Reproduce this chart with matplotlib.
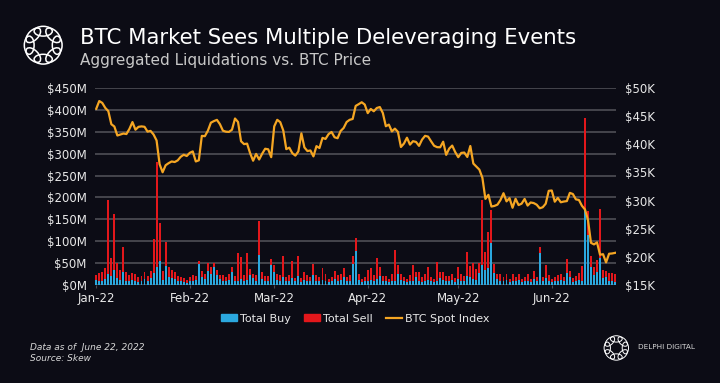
import numpy as np
import matplotlib.pyplot as plt
from matplotlib.patches import Ellipse, Patch
from matplotlib.lines import Line2D

# daily data, Jan 1 2022 -> Jun 22 2022
months = ["Jan-22", "Feb-22", "Mar-22", "Apr-22", "May-22", "Jun-22"]
month_start = [0, 31, 59, 90, 120, 151]

# BTC spot index (K USD), daily
btc = [46.31,
       47.69, 47.35, 46.46, 45.90, 43.57, 43.16, 41.56, 41.73, 41.91, 41.82, 42.74, 43.95, 42.59, 43.10, 43.18,
       43.11, 42.25, 42.38, 41.74, 40.68, 36.46, 35.03, 36.28, 36.65, 36.95, 36.85, 37.14, 37.78, 38.14, 37.92, 38.48,
       38.74, 36.95, 37.15, 41.50, 41.44, 42.41, 43.84, 44.12, 44.34, 43.57, 42.41, 42.24, 42.20, 42.59, 44.58,
       43.96, 40.54, 40.03, 40.12, 38.43, 37.08, 38.29, 37.30, 38.33, 39.21, 39.11, 37.71, 43.19,
       44.35, 43.93, 42.45, 39.14, 39.40, 38.42, 37.99, 38.73, 41.94, 39.44, 38.80, 38.90, 37.85, 39.67, 39.34,
       41.14, 40.95, 41.80, 42.19, 41.25, 41.08, 42.36, 42.89, 43.96, 44.35, 44.50, 46.82, 47.13, 47.47, 47.06, 45.54,
       46.28, 45.87, 46.45, 46.62, 45.56, 43.21, 43.50, 42.29, 42.78, 42.21, 39.52, 40.13, 41.17, 39.94, 40.55,
       40.42, 39.72, 40.83, 41.50, 41.37, 40.53, 39.74, 39.49, 39.47, 40.46, 38.12, 39.24, 39.77, 38.61, 37.71,
       38.47, 38.53, 37.75, 39.70, 36.58, 36.04, 35.50, 34.06, 30.30, 31.02, 28.94, 29.05, 29.28, 30.10, 31.31,
       29.86, 30.43, 28.72, 30.32, 29.20, 29.45, 30.29, 29.11, 29.66, 29.56, 29.27, 28.63, 28.81, 29.45, 31.73, 31.79,
       29.80, 30.47, 29.70, 29.83, 29.91, 31.37, 31.16, 30.21, 30.11, 29.08, 28.42, 26.58, 22.49, 22.21, 22.57,
       20.38, 20.47, 19.02, 20.55, 20.60, 20.71]

# total buy liquidations ($M), daily
buy = [12, 10, 8, 14, 25, 20, 35, 16, 12, 30, 10, 8, 12, 10, 6, 8, 14, 10, 15, 28, 40, 55, 12, 43, 18, 16, 14, 9, 8, 6, 5,
       8, 10, 12, 48, 18, 14, 32, 24, 40, 22, 14, 10, 8, 12, 30, 10, 10, 14, 8, 12, 22, 16, 10, 68, 14, 8, 10, 45,
       30, 12, 10, 18, 8, 10, 16, 8, 20, 6, 12, 10, 8, 22, 10, 8, 12, 10, 6, 8, 14, 10, 12, 18, 8, 10, 47, 77, 12, 6, 8,
       10, 12, 8, 14, 20, 10, 8, 6, 10, 8, 25, 12, 8, 6, 10, 8, 18, 8, 6, 10, 12, 8, 6, 10, 16, 12, 10, 8, 12, 6,
       14, 10, 8, 20, 18, 14, 12, 28, 46, 34, 38, 97, 27, 14, 10, 8, 12, 6, 10, 8, 12, 6, 8, 10, 6, 14, 8, 74, 8, 15, 10,
       6, 8, 10, 12, 8, 27, 18, 6, 8, 12, 8, 171, 114, 42, 22, 30, 61, 16, 18, 10, 8, 7]

# total sell liquidations ($M), daily
sell = [10, 18, 22, 24, 170, 42, 128, 34, 23, 56, 20, 14, 16, 15, 12, 12, 16, 10, 18, 78, 241, 87, 20, 55, 22, 19, 16, 11, 10, 9, 7,
        10, 12, 8, 7, 14, 10, 18, 16, 10, 12, 8, 12, 10, 14, 12, 10, 64, 51, 14, 60, 14, 10, 12, 79, 16, 12, 10, 15,
        15, 13, 12, 48, 10, 12, 39, 8, 47, 10, 18, 12, 10, 25, 12, 10, 26, 14, 8, 10, 18, 12, 14, 20, 10, 12, 20, 31, 14, 8, 10,
        24, 26, 14, 47, 20, 10, 12, 8, 14, 73, 21, 14, 10, 8, 12, 38, 12, 22, 12, 14, 30, 10, 8, 42, 14, 18, 10, 12, 14, 10,
        26, 14, 12, 55, 25, 36, 24, 22, 148, 42, 84, 74, 21, 12, 14, 10, 12, 8, 14, 10, 12, 8, 10, 14, 8, 18, 10, 12, 10, 31, 12,
        8, 10, 12, 14, 10, 32, 14, 10, 12, 16, 35, 211, 54, 25, 18, 27, 112, 18, 15, 18, 20, 18]

days = np.arange(len(btc))

bg = "#0c0c15"
grid_c = "#4a4a50"
txt = "#e8e8e8"
blue = "#2ba8de"
red = "#e3171b"
orange = "#f5a623"

fig = plt.figure(figsize=(7.2, 3.83), dpi=100, facecolor=bg)
ax = fig.add_axes([0.132, 0.2559, 0.724, 0.5143])
ax.set_facecolor(bg)

ax.bar(days, buy, width=0.65, color=blue, zorder=3)
ax.bar(days, sell, width=0.65, bottom=buy, color=red, zorder=3)
ax.set_ylim(0, 450)
ax.set_xlim(-0.4, len(btc) - 0.6)
ax.set_yticks(np.arange(0, 451, 50))
ax.set_yticklabels([f"${v}M" for v in range(0, 451, 50)])
ax.grid(axis="y", color=grid_c, linewidth=1.3, zorder=0)
ax.set_xticks(month_start)
ax.set_xticklabels(months)
for s in ax.spines.values():
    s.set_visible(False)
ax.tick_params(axis="y", length=0, colors=txt, labelsize=8.5, pad=6)
ax.tick_params(axis="x", length=2, color=grid_c, colors=txt, labelsize=8.5, pad=3)

ax2 = ax.twinx()
ax2.plot(days, btc, color=orange, linewidth=1.6, zorder=4)
ax2.set_ylim(15, 50)
ax2.set_yticks(np.arange(15, 51, 5))
ax2.set_yticklabels([f"${v}K" for v in range(15, 51, 5)])
for s in ax2.spines.values():
    s.set_visible(False)
ax2.tick_params(axis="y", length=0, colors=txt, labelsize=8.5, pad=6)

handles = [Patch(color=blue), Patch(color=red), Line2D([0], [0], color=orange, lw=1.6)]
fig.legend(handles, ["Total Buy", "Total Sell", "BTC Spot Index"], loc="center",
           bbox_to_anchor=(0.493, 0.168), ncol=3, frameon=False, fontsize=8,
           labelcolor=txt, handlelength=1.5, handleheight=0.6, handletextpad=0.2, columnspacing=1.2)

fig.text(0.111, 0.9, "BTC Market Sees Multiple Deleveraging Events", color="white",
         fontsize=15.3, va="center", ha="left")
fig.text(0.111, 0.843, "Aggregated Liquidations vs. BTC Price", color="#c8c8c8",
         fontsize=11, va="center", ha="left")
fig.text(0.042, 0.078, "Data as of  June 22, 2022\nSource: Skew", color="#d8d8d8",
         fontsize=6.5, style="italic", va="center", ha="left", linespacing=1.3)
fig.text(0.886, 0.094, "DELPHI DIGITAL", color="#d8d8d8", fontsize=5.2,
         va="center", ha="left")


def logo(rect, lw):
    lax = fig.add_axes(rect)
    lax.set_aspect("equal")
    lax.axis("off")
    for k in range(8):
        t = k * np.pi / 4
        lax.add_patch(Ellipse((0.6 * np.cos(t), 0.6 * np.sin(t)), 0.78, 0.42,
                              angle=np.degrees(t) + 90, fill=False, ec="white", lw=lw))
    lax.set_xlim(-1.05, 1.05)
    lax.set_ylim(-1.05, 1.05)


logo([0.026, 0.818, 0.068, 0.128], 1.1)
logo([0.834, 0.05, 0.044, 0.083], 0.7)

fig.savefig("out.png", dpi=100, facecolor=bg)
